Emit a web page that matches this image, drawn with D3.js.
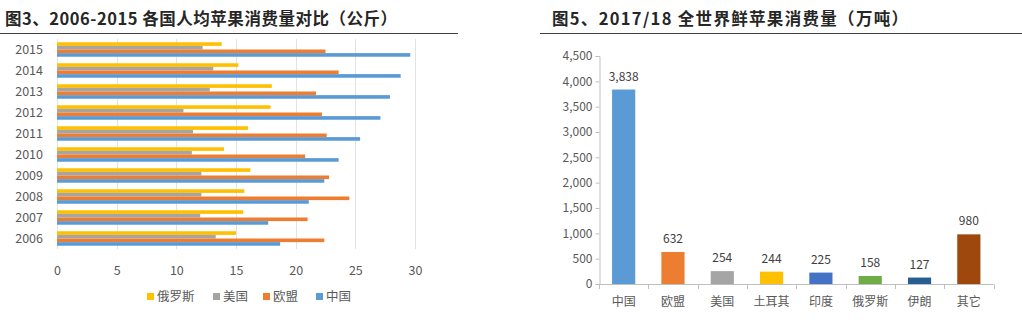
<!DOCTYPE html>
<html>
<head>
<meta charset="utf-8">
<script src="https://cdn.jsdelivr.net/npm/d3@7"></script>
<style>
  html, body { margin: 0; padding: 0; background: #fff; }
  svg { display: block; }
  text { font-family: "Noto Sans CJK SC", "Noto Sans", sans-serif; }
</style>
</head>
<body>
<svg id="chart" width="1022" height="323"></svg>
<script>
// ---- Left chart data (kg per capita) ----
const years = ["2015","2014","2013","2012","2011","2010","2009","2008","2007","2006"];
const seriesNames = ["俄罗斯","美国","欧盟","中国"];
const russia = [13.8, 15.2, 18.0, 17.9, 16.0, 14.0, 16.2, 15.7, 15.6, 15.0];
const usa    = [12.2, 13.1, 12.8, 10.6, 11.4, 11.3, 12.1, 12.1, 12.0, 13.3];
const eu     = [22.5, 23.6, 21.7, 22.2, 22.6, 20.8, 22.8, 24.5, 21.0, 22.4];
const china  = [29.6, 28.8, 27.9, 27.1, 25.4, 23.6, 22.4, 21.1, 17.7, 18.7];
const xTicksLeft = [0, 5, 10, 15, 20, 25, 30];
const seriesColors = ["#FFC000", "#A5A5A5", "#ED7D31", "#5B9BD5"];

// ---- Right chart data (10k tonnes) ----
const regions = ["中国","欧盟","美国","土耳其","印度","俄罗斯","伊朗","其它"];
const consumption = [3838, 632, 254, 244, 225, 158, 127, 980];
const regionColors = ["#5B9BD5","#ED7D31","#A5A5A5","#FFC000","#4472C4","#70AD47","#255E91","#9E480E"];
const yTicksRight = [0,500,1000,1500,2000,2500,3000,3500,4000,4500];

const svg = d3.select("#chart");
const titleColor = "#262626";
const labelColor = "#595959";

// ---------- Titles ----------
svg.append("text").attr("x", 5).attr("y", 25)
  .attr("font-size", 16.5).attr("font-weight", "bold").attr("fill", titleColor)
  .attr("textLength", 392).attr("lengthAdjust", "spacing")
  .text("图3、2006-2015 各国人均苹果消费量对比（公斤）");
svg.append("line").attr("x1", 0).attr("x2", 458).attr("y1", 33.5).attr("y2", 33.5)
  .attr("stroke", "#404040").attr("stroke-width", 1);

svg.append("text").attr("x", 552).attr("y", 25)
  .attr("font-size", 16.5).attr("font-weight", "bold").attr("fill", titleColor)
  .attr("textLength", 356).attr("lengthAdjust", "spacing")
  .text("图5、2017/18 全世界鲜苹果消费量（万吨）");
svg.append("line").attr("x1", 540).attr("x2", 1022).attr("y1", 33.5).attr("y2", 33.5)
  .attr("stroke", "#404040").attr("stroke-width", 1);

// ---------- Left chart ----------
const xL = d3.scaleLinear().domain([0, 30]).range([57, 415]);
const yL = d3.scaleBand().domain(years).range([39, 249]).paddingInner(0.31).paddingOuter(0.155);
const ySub = d3.scaleBand().domain(seriesNames).range([0, yL.bandwidth()]);
const seriesValues = [russia, usa, eu, china];

const gL = svg.append("g");
gL.append("g").selectAll("line").data(xTicksLeft).join("line")
  .attr("x1", d => Math.round(xL(d)) + 0.5).attr("x2", d => Math.round(xL(d)) + 0.5)
  .attr("y1", 39).attr("y2", 249)
  .attr("stroke", "#E3E3E3").attr("stroke-width", 1);

seriesNames.forEach((s, si) => {
  gL.append("g").selectAll("rect").data(years).join("rect")
    .attr("x", xL(0))
    .attr("y", d => yL(d) + ySub(s))
    .attr("width", (d, i) => xL(seriesValues[si][i]) - xL(0))
    .attr("height", ySub.bandwidth())
    .attr("fill", seriesColors[si]);
});

const xAxisL = d3.axisBottom(xL).tickValues(xTicksLeft).tickSize(0).tickPadding(0);
gL.append("g").attr("transform", "translate(0,266)").call(xAxisL)
  .call(g => g.select(".domain").remove())
  .selectAll("text").attr("font-size", 12.5).attr("fill", labelColor)
  .attr("font-family", "\"Noto Sans CJK SC\", sans-serif");

const yAxisL = d3.axisLeft(yL).tickSize(0).tickPadding(0);
gL.append("g").attr("transform", "translate(43,0)").call(yAxisL)
  .call(g => g.select(".domain").remove())
  .selectAll("text").attr("font-size", 12.5).attr("fill", labelColor)
  .attr("font-family", "\"Noto Sans CJK SC\", sans-serif");

// legend
const legendX = [147, 213, 263, 316];
const legend = gL.append("g");
seriesNames.forEach((s, i) => {
  legend.append("rect").attr("x", legendX[i]).attr("y", 293).attr("width", 7).attr("height", 7)
    .attr("fill", seriesColors[i]);
  legend.append("text").attr("x", legendX[i] + 10).attr("y", 301)
    .attr("font-size", 12.5).attr("fill", labelColor).text(s);
});

// ---------- Right chart ----------
const xR = d3.scaleBand().domain(regions).range([599, 993.5]).paddingInner(0.53).paddingOuter(0.265);
const yR = d3.scaleLinear().domain([0, 4500]).range([284, 56]);
const gR = svg.append("g");

gR.selectAll("rect").data(regions).join("rect")
  .attr("x", d => xR(d))
  .attr("width", xR.bandwidth())
  .attr("y", (d, i) => yR(consumption[i]))
  .attr("height", (d, i) => yR(0) - yR(consumption[i]))
  .attr("fill", (d, i) => regionColors[i]);

gR.selectAll("text.val").data(regions).join("text").attr("class", "val")
  .attr("x", d => xR(d) + xR.bandwidth() / 2)
  .attr("y", (d, i) => yR(consumption[i]) - 9)
  .attr("text-anchor", "middle").attr("font-size", 12).attr("fill", "#404040")
  .text((d, i) => d3.format(",")(consumption[i]));

const yAxisR = d3.axisLeft(yR).tickValues(yTicksRight).tickFormat(d3.format(",")).tickSize(4).tickPadding(3);
gR.append("g").attr("transform", "translate(599.5,0)").call(yAxisR)
  .call(g => g.select(".domain").attr("stroke", "#BFBFBF"))
  .call(g => g.selectAll(".tick line").attr("stroke", "#BFBFBF"))
  .selectAll("text").attr("font-size", 12).attr("fill", labelColor)
  .attr("font-family", "\"Noto Sans CJK SC\", sans-serif");

// x axis line with category-boundary ticks
gR.append("line").attr("x1", 599).attr("x2", 993.5).attr("y1", 284.5).attr("y2", 284.5)
  .attr("stroke", "#BFBFBF");
const step = xR.step();
gR.append("g").selectAll("line").data(d3.range(regions.length + 1)).join("line")
  .attr("x1", i => Math.round(599 + i * step) + 0.5)
  .attr("x2", i => Math.round(599 + i * step) + 0.5)
  .attr("y1", 284.5).attr("y2", 289)
  .attr("stroke", "#BFBFBF");

gR.selectAll("text.cat").data(regions).join("text").attr("class", "cat")
  .attr("x", d => xR(d) + xR.bandwidth() / 2)
  .attr("y", 306)
  .attr("text-anchor", "middle").attr("font-size", 12).attr("fill", labelColor)
  .text(d => d);
</script>
</body>
</html>
